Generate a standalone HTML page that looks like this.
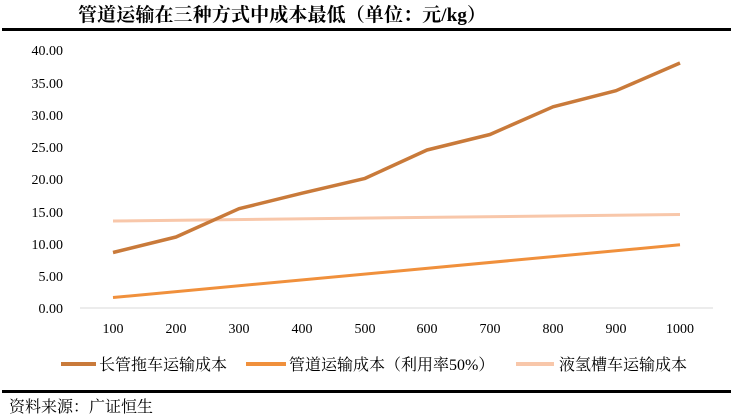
<!DOCTYPE html>
<html><head><meta charset="utf-8"><style>
body{margin:0;background:#fff;width:733px;height:419px;overflow:hidden}
</style></head><body>
<svg width="733" height="419" xmlns="http://www.w3.org/2000/svg" style="position:absolute;left:0;top:0">
<text x="78" y="21" font-family="Liberation Serif, Noto Serif CJK SC, serif" font-weight="bold" font-size="19" fill="#000" textLength="408">管道运输在三种方式中成本最低（单位：元/kg）</text>
<rect x="2" y="28" width="729" height="3" fill="#000"/>
<g font-family="Liberation Serif, serif" font-size="14" fill="#000" text-anchor="end">
<text x="63" y="55">40.00</text>
<text x="63" y="88">35.00</text>
<text x="63" y="120">30.00</text>
<text x="63" y="152">25.00</text>
<text x="63" y="184">20.00</text>
<text x="63" y="217">15.00</text>
<text x="63" y="249">10.00</text>
<text x="63" y="281">5.00</text>
<text x="63" y="313">0.00</text>
</g>
<line x1="80" y1="308" x2="713" y2="308" stroke="#d9d9d9" stroke-width="1"/>
<g font-family="Liberation Serif, serif" font-size="14" fill="#000" text-anchor="middle">
<text x="113" y="333">100</text><text x="176" y="333">200</text><text x="239" y="333">300</text><text x="302" y="333">400</text><text x="365" y="333">500</text><text x="427" y="333">600</text><text x="490" y="333">700</text><text x="553" y="333">800</text><text x="616" y="333">900</text><text x="680" y="333">1000</text>
</g>
<polyline fill="none" stroke="#F8C7AA" stroke-width="3" points="113,221 680,214.5"/>
<polyline fill="none" stroke="#F0903C" stroke-width="3" points="113,297.5 680,244.8"/>
<polyline fill="none" stroke="#C97A3A" stroke-width="3.5" stroke-linejoin="round" points="113,252.5 176,237 239,208.7 302,193.2 365,178.4 427,150 490,134.5 553,106.8 616,90.7 680,63"/>
<line x1="61" y1="364" x2="96" y2="364" stroke="#C97A3A" stroke-width="4"/>
<line x1="246" y1="364" x2="286" y2="364" stroke="#F0903C" stroke-width="4"/>
<line x1="516" y1="364" x2="554" y2="364" stroke="#F8C7AA" stroke-width="4"/>
<g font-family="Liberation Serif, Noto Serif CJK SC, serif" font-size="16" fill="#000">
<text x="99" y="370">长管拖车运输成本</text>
<text x="289" y="370">管道运输成本（利用率50%）</text>
<text x="559" y="370">液氢槽车运输成本</text>
</g>
<rect x="2" y="390" width="729" height="3" fill="#000"/>
<text x="9" y="412" font-family="Liberation Serif, Noto Serif CJK SC, serif" font-size="16" fill="#000">资料来源：广证恒生</text>
</svg>
</body></html>
